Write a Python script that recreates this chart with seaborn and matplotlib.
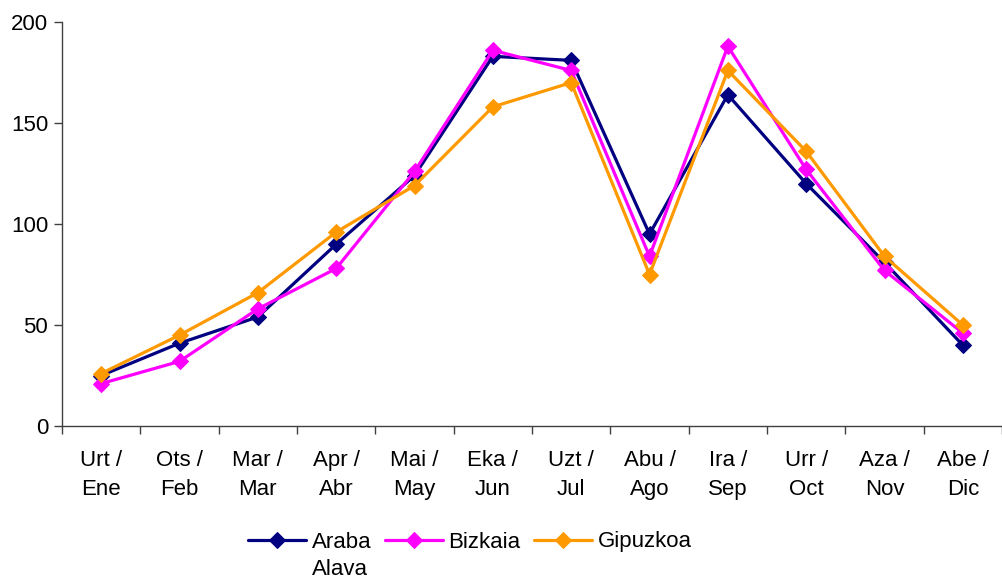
import matplotlib
matplotlib.use("Agg")
import matplotlib.pyplot as plt
import seaborn as sns
import numpy as np
import pandas as pd

months = ["Urt /\nEne", "Ots /\nFeb", "Mar /\nMar", "Apr /\nAbr", "Mai /\nMay", "Eka /\nJun",
          "Uzt /\nJul", "Abu /\nAgo", "Ira /\nSep", "Urr /\nOct", "Aza /\nNov", "Abe /\nDic"]
araba = [25, 41, 54, 90, 124, 183, 181, 95, 164, 120, 81, 40]
bizkaia = [21, 32, 58, 78, 126, 186, 176, 84, 188, 127, 77, 46]
gipuzkoa = [26, 45, 66, 96, 119, 158, 170, 75, 176, 136, 84, 50]
series_names = ["Araba", "Bizkaia", "Gipuzkoa"]
colors = ["#000080", "#FF00FF", "#FF9900"]

sns.set_style("white")
plt.rcParams['font.family'] = ['Liberation Sans', 'DejaVu Sans']
plt.rcParams['text.color'] = 'black'

fig = plt.figure(figsize=(10.02, 5.79), dpi=100)
ax = fig.add_axes([0.0619, 0.2642, 0.9381, 0.6978])

idx = np.arange(len(months))
for name, vals, c in zip(series_names, [araba, bizkaia, gipuzkoa], colors):
    sns.lineplot(x=idx, y=vals, ax=ax, color=c, marker="D", markersize=8.5,
                 markeredgecolor=c, linewidth=2.3, label=name)

ax.set_xlim(-0.5, 11.5)
ax.set_ylim(0, 200)
ax.set_yticks([0, 50, 100, 150, 200])
ax.set_xticks(np.arange(-0.5, 12, 1))
ax.set_xticklabels([])
ax.set_xticks(idx, minor=True)
ax.set_xticklabels(months, minor=True, fontsize=16, linespacing=1.55)
ax.tick_params(axis='x', which='major', length=6, width=1, color='#404040', direction='out', bottom=True)
ax.tick_params(axis='x', which='minor', length=0, pad=17, labelcolor='black')
ax.tick_params(axis='y', length=6, width=1, color='#404040', direction='out', left=True,
               labelsize=16, pad=4, labelcolor='black')
for s in ['top', 'right']:
    ax.spines[s].set_visible(False)
for s in ['left', 'bottom']:
    ax.spines[s].set_color('#404040')
    ax.spines[s].set_linewidth(1)
ax.set_xlabel("")
ax.set_ylabel("")

ax.get_legend().remove()
handles, labels = ax.get_legend_handles_labels()
leg = fig.legend(handles, labels, loc='center', bbox_to_anchor=(0.469, 1 - 542 / 579), ncol=3,
                 frameon=False, fontsize=16, handlelength=2.6, handletextpad=0.25,
                 columnspacing=0.62, borderaxespad=0, borderpad=0)

fig.canvas.draw()
t0 = leg.get_texts()[0]
bb = t0.get_window_extent()
x0, y0 = fig.transFigure.inverted().transform((bb.x0, bb.y0))
fig.text(x0, y0 - 0.012, "Alava", fontsize=16, ha='left', va='top', color='black')

fig.savefig("out.png", dpi=100)
